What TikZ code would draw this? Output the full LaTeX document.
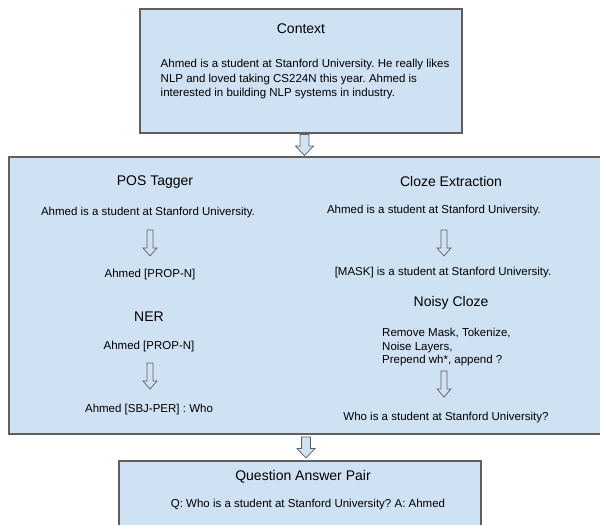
\documentclass[tikz,border=0pt]{standalone}
\usepackage{fontspec}
\setmainfont{Liberation Sans}
\usetikzlibrary{calc}
\frenchspacing

\definecolor{boxblue}{HTML}{CFE2F3}
\definecolor{boxline}{HTML}{5F5F5F}

\begin{document}
\begin{tikzpicture}[
  x=1pt, y=-1pt,
  every node/.style={align=center, inner sep=0pt},
  panel/.style={draw=boxline, fill=boxblue, line width=1.1pt, rectangle},
  heading/.style={font=\fontsize{14}{17}\selectfont},
  body/.style={font=\fontsize{11.5}{14.5}\selectfont},
  arrowline/.style={draw=boxline, fill=boxblue, line width=0.7pt, line join=miter},
  gaparrow/.pic={
    \draw[arrowline] (-4.5,-10.5) -- (4.5,-10.5) -- (4.5,1) -- (9,1) -- (0,10.5)
      -- (-9,1) -- (-4.5,1) -- cycle;
  },
  steparrow/.pic={
    \draw[arrowline] (-3,-13) -- (3,-13) -- (3,5) -- (7,5) -- (0,13)
      -- (-7,5) -- (-3,5) -- cycle;
  }
]
\useasboundingbox (0,0) rectangle (600,525);
\clip (0,0) rectangle (600,525);

% ── context ─────────────────────────────────────────────────────────
\node[panel, minimum width=322pt, minimum height=124pt] (ctx) at (301,71) {};
\node[heading] (ctxtitle) at (301,29) {Context};
\node[body, align=left, anchor=west] (ctxtext) at (160.5,79.5)
  {Ahmed is a student at Stanford University. He really likes\\
   NLP and loved taking CS224N this year. Ahmed is\\
   interested in building NLP systems in industry.};

% ── pipeline panel ──────────────────────────────────────────────────
\node[panel, minimum width=598pt, minimum height=277pt] (pipe) at (308,295.5) {};
\pic at ($(ctx.south)!0.5!(pipe.north)$) {gaparrow};

% left column: POS tagger, then NER
\node[heading] (postitle) at (155,182) {POS Tagger};
\node[body] (posin) at (148,213) {Ahmed is a student at Stanford University.};
\node[body] (posout) at (150,275) {Ahmed [PROP-N]};
\pic at (150,243) {steparrow};

\node[heading] (nertitle) at (149,317) {NER};
\node[body] (nerin) at (149,347) {Ahmed [PROP-N]};
\node[body] (nerout) at (149,410) {Ahmed [SBJ-PER] : Who};
\pic at (150,376) {steparrow};

% right column: cloze extraction, then noisy cloze
\node[heading] (clozetitle) at (451,181) {Cloze Extraction};
\node[body] (clozein) at (434,211) {Ahmed is a student at Stanford University.};
\node[body] (clozeout) at (443,273) {[MASK] is a student at Stanford University.};
\pic at (444,243) {steparrow};

\node[heading] (noisytitle) at (451,303) {Noisy Cloze};
\node[body, align=left, anchor=west, font=\fontsize{11.5}{13.5}\selectfont] (noisysteps) at (382,347.5)
  {Remove Mask, Tokenize,\\
   Noise Layers,\\
   Prepend wh*, append ?};
\node[body] (noisyout) at (446,418) {Who is a student at Stanford University?};
\pic at (444,384) {steparrow};

% ── question answer pair ────────────────────────────────────────────
\node[panel, minimum width=362pt, minimum height=80pt] (qa) at (300,501) {};
\pic at ($(pipe.south)!0.5!(qa.north)+(2,0)$) {gaparrow};
\node[heading] (qatitle) at (303,477) {Question Answer Pair};
\node[body] (qatext) at (308,505)
  {Q: Who is a student at Stanford University? A: Ahmed};

\end{tikzpicture}
\end{document}
